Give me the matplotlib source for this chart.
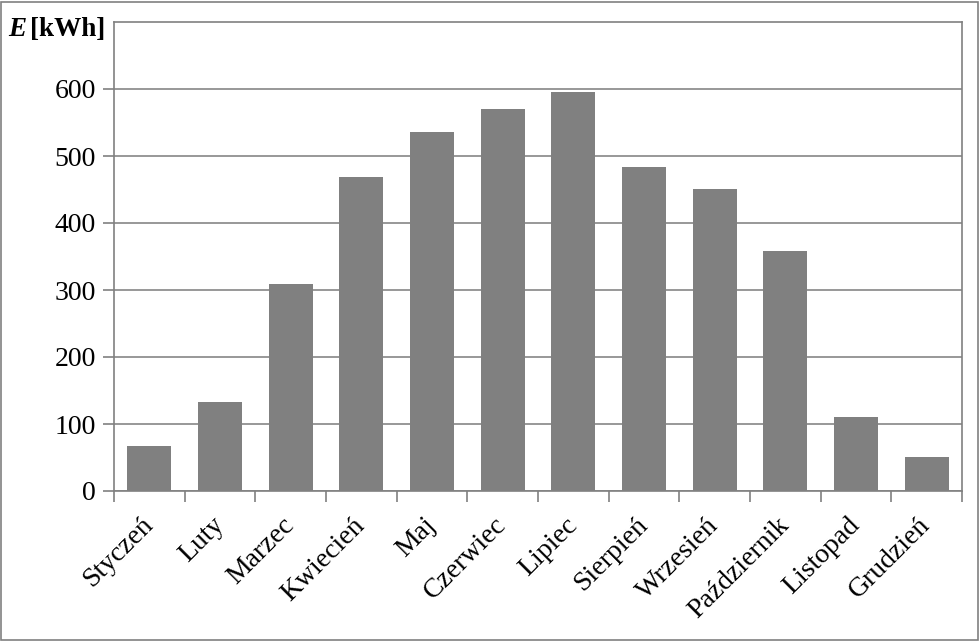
import matplotlib
matplotlib.use("Agg")
import matplotlib.pyplot as plt
from matplotlib.patches import Rectangle

months = ["Styczeń", "Luty", "Marzec", "Kwiecień", "Maj", "Czerwiec", "Lipiec",
          "Sierpień", "Wrzesień", "Październik", "Listopad", "Grudzień"]
energy = [67, 133, 309, 469, 536, 570, 596, 484, 451, 358, 110, 51]
yticks = [0, 100, 200, 300, 400, 500, 600]

plt.rcParams['font.family'] = ['Liberation Serif', 'DejaVu Serif']

fig = plt.figure(figsize=(9.8, 6.41), dpi=100)
fig.patches.append(Rectangle((0.0015, 0.002), 0.996, 0.995, transform=fig.transFigure,
                             fill=False, edgecolor='#808080', linewidth=1.2))
ax = fig.add_axes([114/980, 150/641, 848/980, 469/641])

x = list(range(len(months)))
ax.bar(x, energy, width=0.62, color='#808080', zorder=3)
ax.set_xlim(-0.5, len(months) - 0.5)
ax.set_ylim(0, 700)
ax.set_yticks(yticks)
ax.set_yticklabels([str(v) for v in yticks], fontsize=20)
ax.yaxis.grid(True, color='#868686', linewidth=1.2, zorder=0)
ax.set_axisbelow(True)

for s in ax.spines.values():
    s.set_color('#808080')
    s.set_linewidth(1.2)

ax.tick_params(axis='y', length=8, width=1.2, color='#808080', pad=5)
# x ticks at category boundaries
ax.set_xticks([i - 0.5 for i in range(len(months) + 1)], minor=False)
ax.set_xticklabels([])
ax.tick_params(axis='x', length=8, width=1.2, color='#808080')
ax.set_xticks(x, minor=True)
ax.set_xticklabels(months, minor=True, rotation=45, ha='right', va='center',
                   rotation_mode='anchor', fontsize=20)
ax.tick_params(axis='x', which='minor', length=0, pad=22)

fig.text(8/980, 1 - 30/641, "E", fontsize=19.5, va='center', ha='left',
         fontweight='bold', fontstyle='italic')
fig.text(30/980, 1 - 30/641, "[kWh]", fontsize=19.5, va='center', ha='left',
         fontweight='bold')

fig.savefig("out.png", dpi=100)
